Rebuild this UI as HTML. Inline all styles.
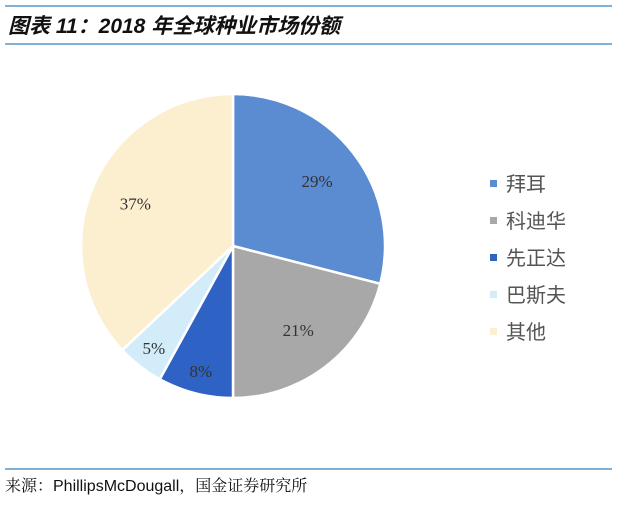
<!DOCTYPE html>
<html><head><meta charset="utf-8"><style>
body{margin:0;width:620px;height:501px;background:#fff;overflow:hidden;font-family:"Liberation Sans","Noto Sans CJK SC",sans-serif}
</style></head><body>
<svg width="620" height="501" xmlns="http://www.w3.org/2000/svg">
<line x1="5" y1="6" x2="612" y2="6" stroke="#7fb0d8" stroke-width="2"/>
<text x="8" y="33" font-size="21" font-weight="bold" font-style="italic" fill="#111" font-family="Liberation Sans,Noto Sans CJK SC,sans-serif">图表 11：2018 年全球种业市场份额</text>
<line x1="5" y1="44" x2="612" y2="44" stroke="#7fb0d8" stroke-width="2"/>
<g id="pie"></g>
<g id="legend"></g>
<line x1="5" y1="469" x2="612" y2="469" stroke="#7fb0d8" stroke-width="2"/>
<text x="5" y="491" font-size="16" fill="#111" font-family="Liberation Sans,Noto Serif CJK SC,sans-serif">来源：PhillipsMcDougall，国金证券研究所</text>
</svg>
<script>
const categories=["拜耳","科迪华","先正达","巴斯夫","其他"];
const values=[29,21,8,5,37];
const colors=["#5b8bd0","#a8a8a8","#2e62c4","#d3ecfa","#fcefcf"];
const NS="http://www.w3.org/2000/svg";
const cx=233,cy=246,r=152;
const pie=document.getElementById('pie');
const total=values.reduce((a,b)=>a+b,0);
let acc=0;
function pt(a,rr){return [cx+rr*Math.sin(a),cy-rr*Math.cos(a)];}
values.forEach((v,i)=>{
  const a0=acc/total*2*Math.PI;acc+=v;const a1=acc/total*2*Math.PI;
  const p0=pt(a0,r),p1=pt(a1,r);const large=(a1-a0)>Math.PI?1:0;
  const path=document.createElementNS(NS,'path');
  path.setAttribute('d',`M${cx},${cy}L${p0[0]},${p0[1]}A${r},${r} 0 ${large} 1 ${p1[0]},${p1[1]}Z`);
  path.setAttribute('fill',colors[i]);path.setAttribute('stroke','#fff');path.setAttribute('stroke-width','2.5');
  
  
  pie.appendChild(path);
  const am=(a0+a1)/2;const lr=v<10?r*0.85:r*0.7;const lp=pt(am,lr);
  const t=document.createElementNS(NS,'text');
  t.setAttribute('x',lp[0]);t.setAttribute('y',lp[1]+6);t.setAttribute('text-anchor','middle');
  t.setAttribute('font-size','17');t.setAttribute('fill','#333');t.setAttribute('font-family','Liberation Serif,serif');
  t.textContent=v+'%';
  
  
  pie.appendChild(t);
});
const lg=document.getElementById('legend');
categories.forEach((c,i)=>{
  const y=184+i*37;
  const s=document.createElementNS(NS,'rect');
  s.setAttribute('x',490);s.setAttribute('y',y-4);s.setAttribute('width',7);s.setAttribute('height',7);s.setAttribute('fill',colors[i]);
  
  
  lg.appendChild(s);
  const t=document.createElementNS(NS,'text');
  t.setAttribute('x',506);t.setAttribute('y',y+7);t.setAttribute('font-size','20');t.setAttribute('fill','#555');
  t.setAttribute('font-family','Noto Sans CJK SC,sans-serif');
  t.textContent=c;
  
  
  lg.appendChild(t);
});
</script>
</body></html>
